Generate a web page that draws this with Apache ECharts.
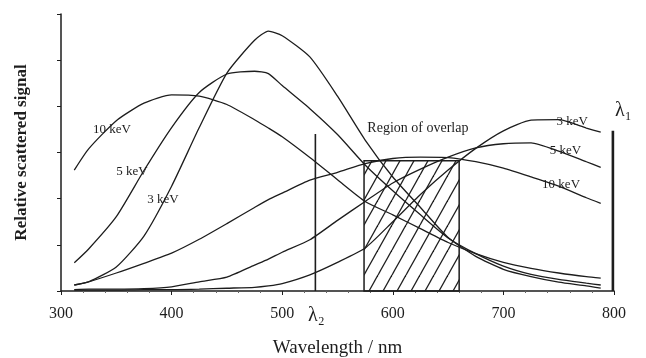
<!DOCTYPE html>
<html>
<head>
<meta charset="utf-8">
<script src="https://cdn.jsdelivr.net/npm/echarts@6/dist/echarts.min.js"></script>
<style>
  html, body { margin: 0; padding: 0; background: #fff; }
  #chart { width: 646px; height: 358px; }
</style>
</head>
<body>
<div id="chart"></div>
<script>
// wavelengths (nm) shared by all curves
const wavelengths = [312, 325, 350, 375, 400, 425, 450, 475, 487.5, 500, 525, 550, 575, 600, 625, 650, 675, 700, 725, 750, 775, 788];

// short-wavelength family (peaks on the left)
const left10keV = [2.62, 3.08, 3.69, 4.07, 4.25, 4.22, 4.04, 3.71, 3.53, 3.34, 2.89, 2.41, 1.94, 1.65, 1.35, 1.05, 0.81, 0.62, 0.49, 0.39, 0.31, 0.28];
const left5keV = [0.61, 0.91, 1.61, 2.61, 3.54, 4.30, 4.70, 4.76, 4.71, 4.45, 3.95, 3.39, 2.73, 2.17, 1.65, 1.15, 0.81, 0.54, 0.36, 0.25, 0.17, 0.13];
const left3keV = [0.13, 0.20, 0.52, 1.19, 2.27, 3.54, 4.72, 5.43, 5.63, 5.53, 5.07, 4.22, 3.27, 2.47, 1.81, 1.16, 0.75, 0.47, 0.31, 0.19, 0.11, 0.06];

// long-wavelength family (peaks on the right)
const right10keV = [0.13, 0.20, 0.39, 0.60, 0.82, 1.12, 1.46, 1.81, 1.98, 2.12, 2.40, 2.57, 2.76, 2.87, 2.90, 2.89, 2.80, 2.66, 2.47, 2.27, 2.02, 1.90];
const right5keV = [0.03, 0.04, 0.04, 0.05, 0.09, 0.20, 0.30, 0.56, 0.69, 0.84, 1.11, 1.53, 1.94, 2.34, 2.64, 2.90, 3.10, 3.19, 3.21, 3.03, 2.80, 2.68];
const right3keV = [0.02, 0.02, 0.02, 0.03, 0.03, 0.04, 0.06, 0.08, 0.11, 0.16, 0.35, 0.62, 0.93, 1.50, 2.09, 2.62, 3.09, 3.47, 3.70, 3.71, 3.53, 3.44];

const xTicks = [300, 400, 500, 600, 700, 800];
const yTicks = [0, 1, 2, 3, 4, 5, 6];

// markers
const lambda2 = [530, 3.4];
const lambda1 = [799, 3.47];
const overlapRange = [574, 660];
const overlapTop = 2.82;

// curve labels: [text, wavelength, value]
const curveNotes = [
  ['10 keV', 329, 3.49],
  ['5 keV', 350, 2.58],
  ['3 keV', 378, 1.97],
  ['3 keV', 748, 3.66],
  ['5 keV', 742, 3.05],
  ['10 keV', 735, 2.30]
];

const serif = "'Liberation Serif', 'DejaVu Serif', serif";
const ink = '#1d1d1d';

// diagonal hatch tile for the overlap region
const tile = document.createElement('canvas');
tile.width = 14;
tile.height = 25;
const tctx = tile.getContext('2d');
tctx.strokeStyle = ink;
tctx.lineWidth = 1.3;
[-14, 0, 14].forEach(function (dx) {
  tctx.beginPath();
  tctx.moveTo(dx, 25);
  tctx.lineTo(dx + 14, 0);
  tctx.stroke();
});

function pairs(values) {
  return wavelengths.map(function (w, i) { return [w, values[i]]; });
}

function curve(values) {
  return {
    type: 'line',
    data: pairs(values),
    showSymbol: false,
    smooth: 0.2,
    silent: true,
    lineStyle: { color: ink, width: 1.3 }
  };
}

const chart = echarts.init(document.getElementById('chart'));

const series = [left10keV, left5keV, left3keV, right10keV, right5keV, right3keV].map(curve);

// lambda lines
series.push({
  type: 'line',
  data: [[lambda2[0], 0], lambda2],
  symbol: 'none',
  silent: true,
  lineStyle: { color: ink, width: 1.6 }
});
series.push({
  type: 'line',
  data: [[lambda1[0], 0], lambda1],
  symbol: 'none',
  silent: true,
  lineStyle: { color: ink, width: 2.6 }
});

// overlap region + text annotations
series.push({
  type: 'line',
  data: [],
  silent: true,
  markArea: {
    silent: true,
    itemStyle: {
      color: { image: tile, repeat: 'repeat' },
      borderColor: ink,
      borderWidth: 1.5
    },
    data: [[{ coord: [overlapRange[0], 0] }, { coord: [overlapRange[1], overlapTop] }]]
  },
  markPoint: {
    silent: true,
    symbolSize: 0,
    label: {
      show: true,
      position: 'right',
      distance: 0,
      formatter: '{b}',
      color: ink,
      fontFamily: serif,
      fontSize: 13
    },
    data: curveNotes.map(function (n) {
      return { name: n[0], coord: [n[1], n[2]] };
    }).concat([
      { name: 'Region of overlap', coord: [577, 3.53], label: { fontSize: 14 } },
      { name: 'λ₁', coord: [800, 3.9], label: { fontSize: 20, distance: 1 } },
      { name: 'λ₂', coord: [lambda2[0], 0], label: { fontSize: 20, position: 'inside', offset: [1, 25] } }
    ])
  }
});

const option = {
  animation: false,
  grid: { left: 61, right: 32, top: 14, bottom: 67, outerBoundsMode: 'none' },
  xAxis: {
    type: 'value',
    min: xTicks[0],
    max: xTicks[xTicks.length - 1],
    interval: xTicks[1] - xTicks[0],
    name: 'Wavelength / nm',
    nameLocation: 'middle',
    nameGap: 48,
    nameTextStyle: { fontFamily: serif, fontSize: 19, color: ink },
    axisLine: { onZero: false, lineStyle: { color: ink, width: 1.5 } },
    axisTick: { length: 4, lineStyle: { color: ink } },
    minorTick: { show: true, splitNumber: 5, length: 2, lineStyle: { color: '#666' } },
    axisLabel: { fontFamily: serif, fontSize: 16, color: ink, margin: 15 },
    splitLine: { show: false }
  },
  yAxis: {
    type: 'value',
    min: yTicks[0],
    max: yTicks[yTicks.length - 1],
    interval: 1,
    name: 'Relative scattered signal',
    nameLocation: 'middle',
    nameGap: 31,
    nameTextStyle: { fontFamily: serif, fontSize: 17, fontWeight: 'bold', color: ink },
    axisLine: { show: true, lineStyle: { color: ink, width: 1.5 } },
    axisTick: { show: true, length: 4, lineStyle: { color: ink } },
    axisLabel: { show: false },
    splitLine: { show: false }
  },
  series: series
};

chart.setOption(option);
</script>
</body>
</html>
